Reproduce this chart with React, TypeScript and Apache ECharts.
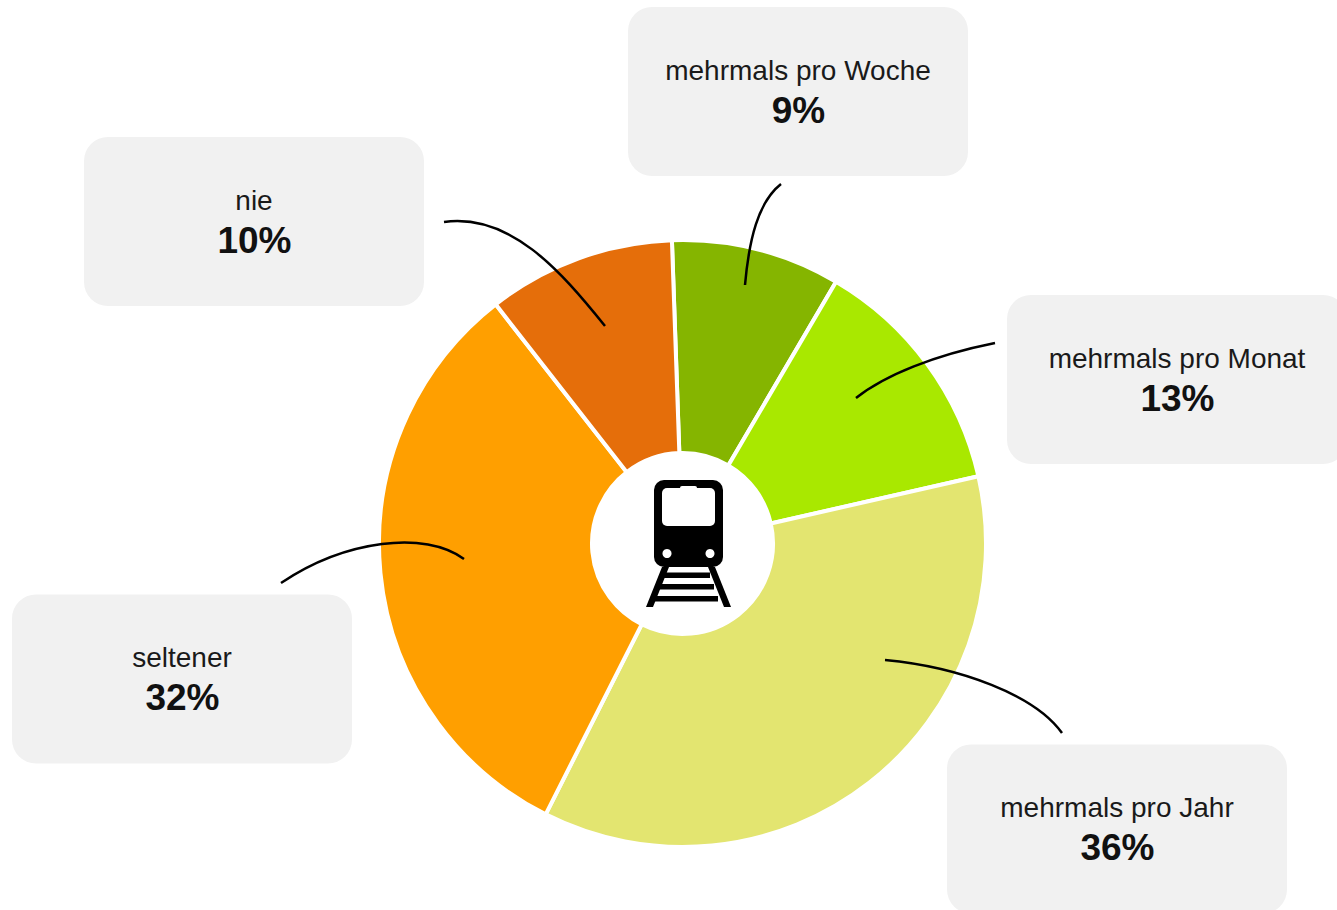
import React, { useEffect, useRef } from "react";
import * as echarts from "echarts";

const categories = ["mehrmals pro Woche", "mehrmals pro Monat", "mehrmals pro Jahr", "seltener", "nie"];
const values = [9, 13, 36, 32, 10];
const colors = ["#85b500", "#a9e800", "#e3e570", "#ff9f00", "#e56e0a"];

// callout layout, same order as the categories: box left/top, then the leader curve
const boxes = [
  [628, 7],
  [1007, 295],
  [947, 744.5],
  [12, 594.5],
  [84, 137],
];
const leaders = [
  [781, 184, 758, 202, 749, 240, 745, 285],
  [995, 343, 935, 355, 885, 375, 856, 398],
  [885, 660, 960, 667, 1035, 695, 1062, 733],
  [281, 583, 345, 540, 425, 530, 464, 559],
  [444, 222, 510, 213, 560, 270, 605, 326],
];
const BOX_W = 340;
const BOX_H = 169;
const FONT = '"Liberation Sans", Arial, sans-serif';

function trainIcon() {
  const black = { fill: "#000" };
  const white = { fill: "#fff" };
  return [
    { type: "polygon", z: 10, shape: { points: [[646, 607], [653, 607], [669, 567], [662, 567]] }, style: black },
    { type: "polygon", z: 10, shape: { points: [[724, 607], [731, 607], [715, 567], [708, 567]] }, style: black },
    { type: "rect", z: 10, shape: { x: 660, y: 572.5, width: 50, height: 5.5 }, style: black },
    { type: "rect", z: 10, shape: { x: 656, y: 584, width: 58, height: 5.5 }, style: black },
    { type: "rect", z: 10, shape: { x: 652, y: 596, width: 66, height: 5.5 }, style: black },
    { type: "rect", z: 10, shape: { x: 654, y: 480, width: 69, height: 87, r: 10 }, style: black },
    { type: "rect", z: 11, shape: { x: 662, y: 488, width: 53, height: 38, r: 5 }, style: white },
    { type: "rect", z: 11, shape: { x: 680, y: 486, width: 17, height: 6, r: 2 }, style: white },
    { type: "circle", z: 11, shape: { cx: 667, cy: 553.5, r: 4.5 }, style: white },
    { type: "circle", z: 11, shape: { cx: 710, cy: 553.5, r: 4.5 }, style: white },
  ];
}

export default function App() {
  const ref = useRef<HTMLDivElement>(null);
  useEffect(() => {
    document.body.style.margin = "0";
    const chart = echarts.init(ref.current!, null, { renderer: "svg" });
    const callouts: any[] = [];
    categories.forEach((name, i) => {
      const [x, y] = boxes[i];
      const [x1, y1, cpx1, cpy1, cpx2, cpy2, x2, y2] = leaders[i];
      callouts.push(
        { type: "rect", z: 5, shape: { x, y, width: BOX_W, height: BOX_H, r: 24 }, style: { fill: "#f1f1f1" } },
        {
          type: "bezierCurve",
          z: 6,
          shape: { x1, y1, cpx1, cpy1, cpx2, cpy2, x2, y2 },
          style: { stroke: "#000", lineWidth: 2.5, fill: "none" },
        },
        {
          type: "text",
          z: 7,
          x: x + BOX_W / 2,
          y: y + 63,
          style: { text: name, font: `28px ${FONT}`, fill: "#1a1a1a", align: "center", verticalAlign: "middle" },
        },
        {
          type: "text",
          z: 7,
          x: x + BOX_W / 2 + 0.5,
          y: y + 103,
          style: { text: `${values[i]}%`, font: `bold 37px ${FONT}`, fill: "#111", align: "center", verticalAlign: "middle" },
        }
      );
    });
    chart.setOption({
      animation: false,
      backgroundColor: "#fff",
      series: [
        {
          type: "pie",
          center: [682.5, 543.5],
          radius: [90.5, 303.5],
          startAngle: 92,
          clockwise: true,
          silent: true,
          label: { show: false },
          labelLine: { show: false },
          itemStyle: { borderColor: "#fff", borderWidth: 4 },
          data: categories.map((name, i) => ({ name, value: values[i], itemStyle: { color: colors[i] } })),
        },
      ],
      graphic: { elements: [...callouts, ...trainIcon()] },
    });
    return () => chart.dispose();
  }, []);
  return <div ref={ref} style={{ width: 1337, height: 910 }} />;
}
